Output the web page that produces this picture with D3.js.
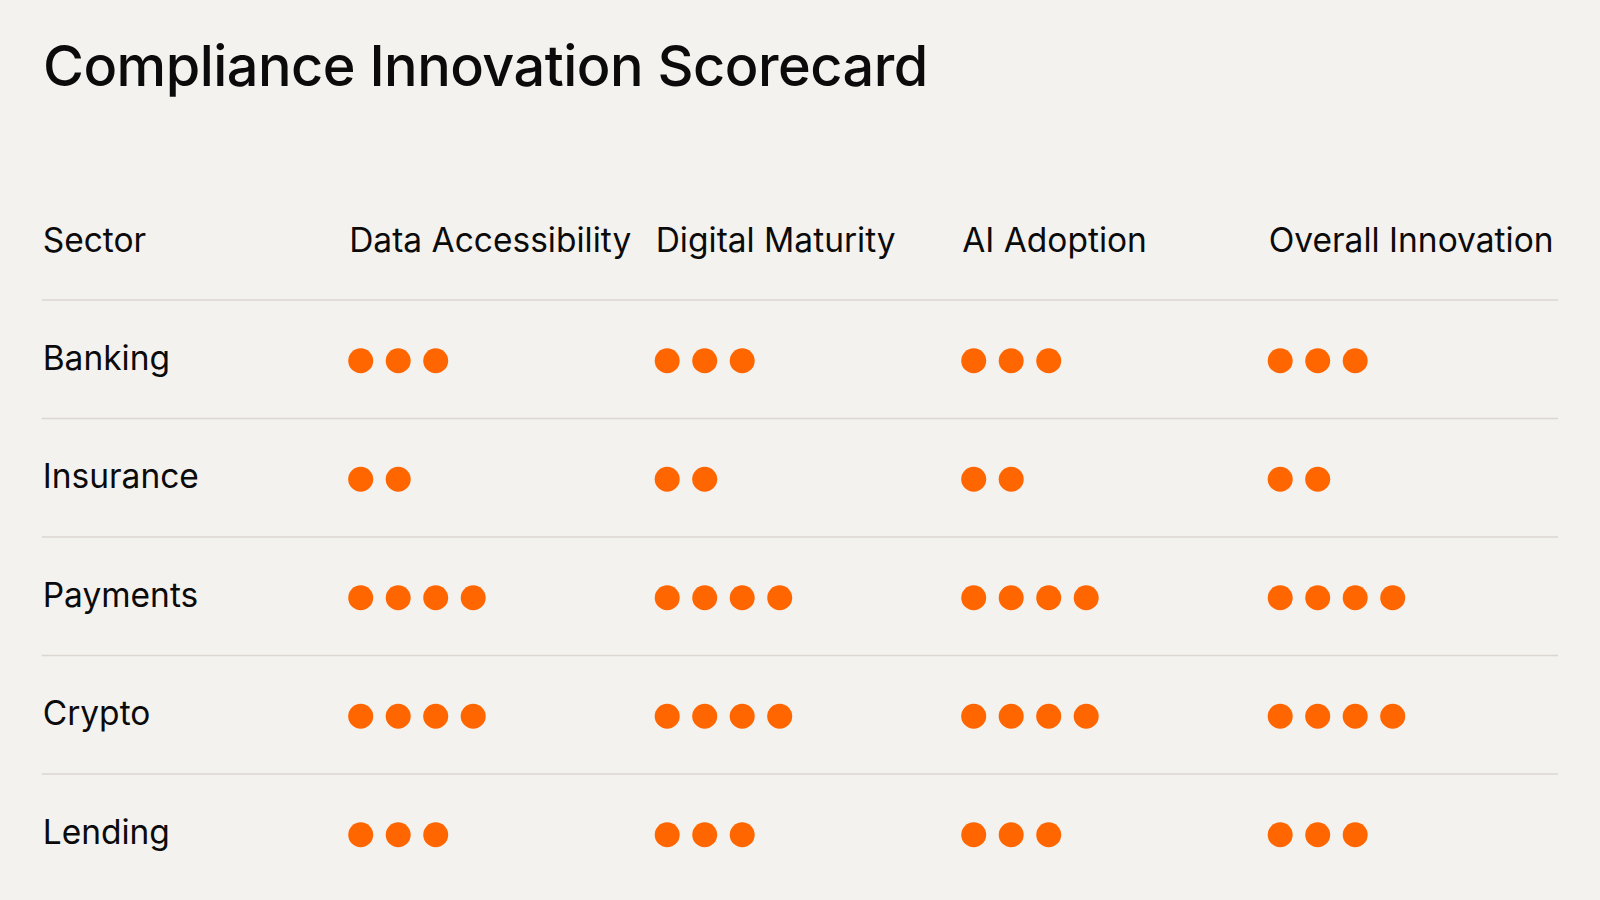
<!DOCTYPE html>
<html>
<head>
<meta charset="utf-8">
<script src="https://cdn.jsdelivr.net/npm/d3@7/dist/d3.min.js"></script>
<style>
  html, body { margin: 0; padding: 0; background: #f4f2ee; }
  svg { display: block; }
  text { font-family: Inter, "Noto Sans", sans-serif; fill: #0b0b0b; }
</style>
</head>
<body>
<svg id="chart" width="1600" height="900"></svg>
<script>
const title = "Compliance Innovation Scorecard";
const firstHeader = "Sector";
const sectors = ["Banking", "Insurance", "Payments", "Crypto", "Lending"];
const criteria = ["Data Accessibility", "Digital Maturity", "AI Adoption", "Overall Innovation"];
const dataAccessibility = [3, 2, 4, 4, 3];
const digitalMaturity   = [3, 2, 4, 4, 3];
const aiAdoption        = [3, 2, 4, 4, 3];
const overallInnovation = [3, 2, 4, 4, 3];
const seriesValues = [dataAccessibility, digitalMaturity, aiAdoption, overallInnovation];

const W = 1600, H = 900;
const svg = d3.select("#chart");
svg.append("rect").attr("width", W).attr("height", H).attr("fill", "#f4f2ee");

const left = 41.7, colStep = 306.5, tableRight = 1558;
const columns = [firstHeader, ...criteria];
const x = d3.scaleBand().domain(columns).range([left, left + colStep * columns.length]).padding(0);

const headerLineY = 300, rowStep = 118.5;
const y = d3.scaleBand().domain(sectors).range([headerLineY, headerLineY + rowStep * sectors.length]).padding(0);

// Title
const t = svg.append("text")
  .attr("x", 43).attr("y", 86)
  .attr("font-size", 60).attr("font-weight", 500)
  .attr("letter-spacing", "-0.5px")
  .text(title);
const tw = t.node().getComputedTextLength();
t.attr("font-size", 60 * 886 / tw);

// Header
const headerG = svg.append("g");
const hdr = headerG.selectAll("text").data(columns).join("text")
  .attr("x", d => x(d) + 1)
  .attr("y", 251.5)
  .attr("font-size", 32)
  .attr("font-weight", 400)
  .text(d => d);
const ow = hdr.filter(d => d === "Overall Innovation").node().getComputedTextLength();
const baseSize = 32 * 285 / ow;
hdr.attr("font-size", baseSize);

// Row separators (top of each row)
svg.append("g").selectAll("line").data(sectors).join("line")
  .attr("x1", left).attr("x2", tableRight)
  .attr("y1", d => y(d)).attr("y2", d => y(d))
  .attr("stroke", "#dcd6d2").attr("stroke-width", 1.5);

// Row labels
svg.append("g").selectAll("text").data(sectors).join("text")
  .attr("x", x(firstHeader) + 1)
  .attr("y", d => y(d) + y.bandwidth() / 2 + 10.5)
  .attr("font-size", baseSize)
  .text(d => d);

// Dots
const r = 12.5, dotStep = 37.5;
const dots = [];
criteria.forEach((c, ci) => {
  sectors.forEach((s, si) => {
    d3.range(seriesValues[ci][si]).forEach(k => dots.push({c, s, k}));
  });
});
svg.append("g").selectAll("circle").data(dots).join("circle")
  .attr("cx", d => x(d.c) + r + d.k * dotStep)
  .attr("cy", d => y(d.s) + y.bandwidth() / 2 + 1.5)
  .attr("r", r)
  .attr("fill", "#ff6600");
</script>
</body>
</html>
